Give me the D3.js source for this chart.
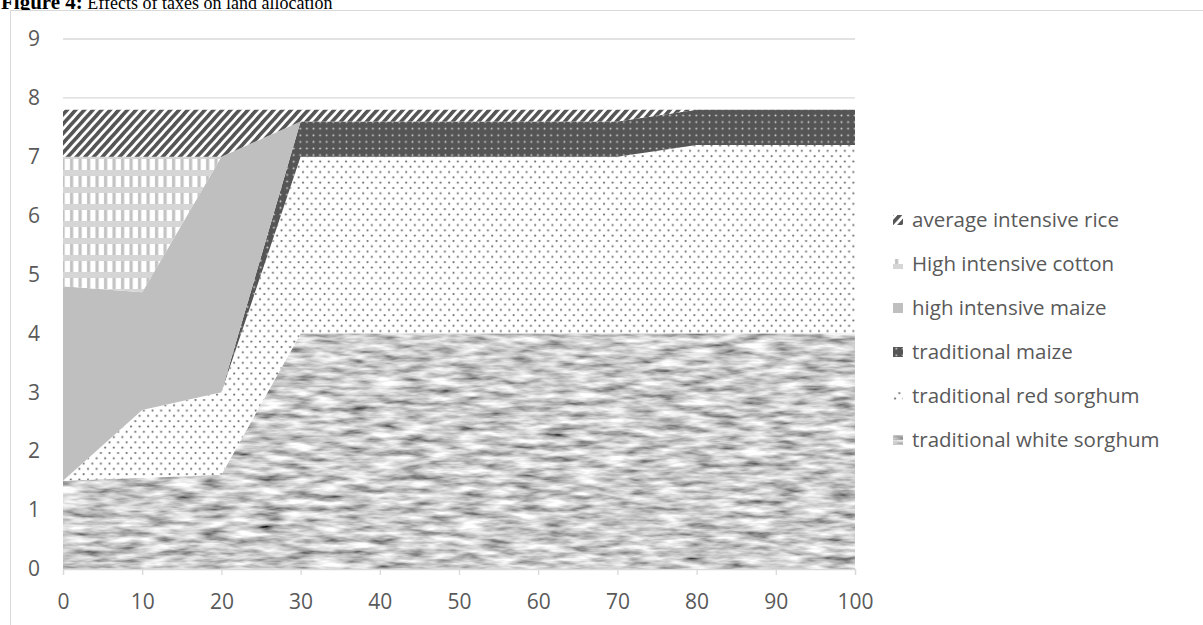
<!DOCTYPE html>
<html>
<head>
<meta charset="utf-8">
<script src="https://cdn.jsdelivr.net/npm/d3@7"></script>
<style>
  body { margin: 0; background: #fff; }
  text { font-family: "Open Sans", sans-serif; }
</style>
</head>
<body>
<svg id="chart"></svg>
<script>
// tax level on the x axis
const xValues = [0, 10, 20, 30, 40, 50, 60, 70, 80, 90, 100];

// land allocated to each activity (stacked, bottom first)
const whiteSorghum = [1.5, 1.55, 1.6, 4, 4, 4, 4, 4, 4, 4, 4];
const redSorghum   = [0, 1.15, 1.4, 3, 3, 3, 3, 3, 3.2, 3.2, 3.2];
const tradMaize    = [0, 0, 0, 0.6, 0.6, 0.6, 0.6, 0.6, 0.6, 0.6, 0.6];
const highMaize    = [3.3, 2.0, 4.0, 0, 0, 0, 0, 0, 0, 0, 0];
const highCotton   = [2.2, 2.3, 0, 0, 0, 0, 0, 0, 0, 0, 0];
const avgRice      = [0.8, 0.8, 0.8, 0.2, 0.2, 0.2, 0.2, 0.2, 0, 0, 0];

const seriesNames = ["traditional white sorghum", "traditional red sorghum", "traditional maize",
                     "high intensive maize", "High intensive cotton", "average intensive rice"];
const seriesValues = [whiteSorghum, redSorghum, tradMaize, highMaize, highCotton, avgRice];
const fills = ["url(#texWhite)", "url(#patRed)", "url(#patMaize)", "#bfbfbf", "url(#patCotton)", "url(#patRice)"];

const yTicks = [0, 1, 2, 3, 4, 5, 6, 7, 8, 9];
const xTicks = xValues;

const width = 1203, height = 625;
const svg = d3.select("#chart").attr("width", width).attr("height", height);

// title sits behind the chart box, only its lower part shows
const title = svg.append("text")
  .attr("x", 1).attr("y", 9)
  .style("font-family", "'Liberation Serif', serif")
  .attr("fill", "#000");
title.append("tspan").style("font-weight", "bold").style("font-size", "21px").text("Figure 4:");
title.append("tspan").style("font-size", "18px").text(" Effects of taxes on land allocation");

svg.append("rect")
  .attr("x", 10.5).attr("y", 10.5)
  .attr("width", 1220).attr("height", 640)
  .attr("fill", "#fff").attr("stroke", "#d9d9d9");

const defs = svg.append("defs");

// noisy texture for white sorghum
const f = defs.append("filter").attr("id", "noise")
  .attr("x", 0).attr("y", 0).attr("width", 1).attr("height", 1);
f.append("feTurbulence").attr("type", "fractalNoise")
  .attr("baseFrequency", "0.035 0.16").attr("numOctaves", 3).attr("seed", 7).attr("result", "t");
f.append("feColorMatrix").attr("in", "t").attr("type", "matrix")
  .attr("values", "1.45 0 0 0 -0.12  1.45 0 0 0 -0.12  1.45 0 0 0 -0.12  0 0 0 0 1").attr("result", "g");
f.append("feComposite").attr("in", "g").attr("in2", "SourceGraphic").attr("operator", "in");

const tw = defs.append("pattern").attr("id", "texWhite").attr("patternUnits", "userSpaceOnUse")
  .attr("width", 1000).attr("height", 600);
tw.append("rect").attr("width", 1000).attr("height", 600).attr("fill", "#999").attr("filter", "url(#noise)");

// dotted red sorghum
const pr = defs.append("pattern").attr("id", "patRed").attr("patternUnits", "userSpaceOnUse")
  .attr("width", 8.6).attr("height", 10.6);
pr.append("rect").attr("width", 8.6).attr("height", 10.6).attr("fill", "#fff");
pr.append("circle").attr("cx", 2).attr("cy", 2.5).attr("r", 1.1).attr("fill", "#6e6e6e");
pr.append("circle").attr("cx", 6.3).attr("cy", 7.8).attr("r", 1.1).attr("fill", "#6e6e6e");

// dark with light dots for traditional maize
const pm = defs.append("pattern").attr("id", "patMaize").attr("patternUnits", "userSpaceOnUse")
  .attr("width", 6.6).attr("height", 6.6);
pm.append("rect").attr("width", 6.6).attr("height", 6.6).attr("fill", "#555");
pm.append("circle").attr("cx", 3.3).attr("cy", 3.3).attr("r", 1).attr("fill", "#cfcfcf");

// plaid for cotton
const pc = defs.append("pattern").attr("id", "patCotton").attr("patternUnits", "userSpaceOnUse")
  .attr("width", 8.5).attr("height", 17);
pc.append("rect").attr("width", 8.5).attr("height", 17).attr("fill", "#fff");
pc.append("rect").attr("x", 2).attr("width", 3.2).attr("height", 17).attr("fill", "#c2c2c2");
pc.append("rect").attr("y", 0).attr("width", 8.5).attr("height", 6).attr("fill", "#d6d6d6");

// diagonal stripes for rice
const pi = defs.append("pattern").attr("id", "patRice").attr("patternUnits", "userSpaceOnUse")
  .attr("width", 6.4).attr("height", 6.4).attr("patternTransform", "rotate(42)");
pi.append("rect").attr("width", 6.4).attr("height", 6.4).attr("fill", "#fff");
pi.append("rect").attr("width", 3.6).attr("height", 6.4).attr("fill", "#555");

// scales
const x = d3.scaleLinear().domain([0, 100]).range([63, 855]);
const y = d3.scaleLinear().domain([0, 9]).range([569, 39]);

// gridlines
svg.append("g").selectAll("line").data(yTicks.filter(d => d > 0)).join("line")
  .attr("x1", x(0)).attr("x2", x(100))
  .attr("y1", d => y(d)).attr("y2", d => y(d))
  .attr("stroke", "#d9d9d9").attr("stroke-width", 1.3);

// stacked areas
const table = xValues.map((xv, i) => {
  const row = { x: xv };
  seriesNames.forEach((n, k) => row[n] = seriesValues[k][i]);
  return row;
});
const stack = d3.stack().keys(seriesNames);
const layers = stack(table);

const area = d3.area()
  .x(d => x(d.data.x))
  .y0(d => y(d[0]))
  .y1(d => y(d[1]));

svg.append("g").selectAll("path").data(layers).join("path")
  .attr("d", area)
  .attr("fill", (d, i) => fills[i]);

// x axis
const xAxis = svg.append("g").attr("transform", `translate(0,${y(0)})`)
  .call(d3.axisBottom(x).tickValues(xTicks).tickSize(6).tickPadding(19));
xAxis.select(".domain").attr("stroke", "#d9d9d9").attr("stroke-width", 1.3);
xAxis.selectAll(".tick line").attr("stroke", "#d9d9d9").attr("stroke-width", 1.3);
xAxis.selectAll(".tick text").attr("fill", "#595959").style("font-size", "21px")
  .style("font-family", "'Open Sans', sans-serif");

// y axis labels
const yAxis = svg.append("g").attr("transform", `translate(${x(0)},0)`)
  .call(d3.axisLeft(y).tickValues(yTicks).tickSize(0).tickPadding(23));
yAxis.select(".domain").remove();
yAxis.selectAll(".tick text").attr("fill", "#595959").style("font-size", "21px")
  .style("font-family", "'Open Sans', sans-serif");

// legend, top item is the top layer
const legendItems = seriesNames.map((n, i) => ({ name: n, fill: fills[i] })).reverse();
const lg = svg.append("g").selectAll("g").data(legendItems).join("g")
  .attr("transform", (d, i) => `translate(893,${220 + i * 44})`);
lg.append("rect").attr("x", 0).attr("y", -5).attr("width", 10).attr("height", 10)
  .attr("fill", d => d.fill);
lg.append("text").attr("x", 19).attr("y", 0).attr("dy", "0.35em")
  .attr("fill", "#595959").style("font-size", "20.5px")
  .text(d => d.name);
</script>
</body>
</html>
